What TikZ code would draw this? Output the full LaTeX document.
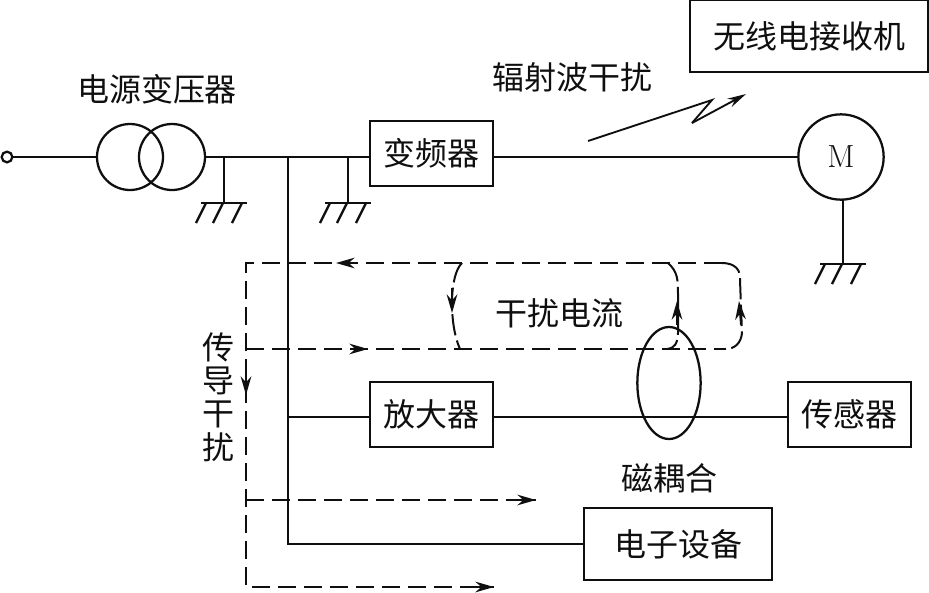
\documentclass[tikz,border=0pt]{standalone}
\usepackage{fontspec}
\usepackage{xcolor}
\usetikzlibrary{arrows.meta,positioning,shapes.geometric}
\newfontfamily\cjk{Noto Sans CJK SC}
\definecolor{diagink}{RGB}{15,15,15}
\tikzset{
  wire/.style={line width=1.7pt,diagink},
  noise/.style={line width=1.7pt,diagink,dash pattern=on 13.5pt off 6pt},
  noisecurve/.style={line width=1.5pt,diagink,dash pattern=on 16pt off 4pt},
  tip/.style={line width=1.4pt,diagink,-{Stealth[length=14pt,width=8pt]}},
  boxlabel/.style={draw=diagink,line width=1.7pt,inner sep=0pt,font=\cjk\fontsize{24pt}{24pt}\selectfont,text=diagink},
  caption/.style={inner sep=0pt,font=\cjk\fontsize{24pt}{25pt}\selectfont,text=diagink},
  round/.style={draw=diagink,line width=1.7pt,circle,inner sep=0pt}
}
\begin{document}
\begin{tikzpicture}[x=0.75pt,y=-0.75pt]
\useasboundingbox (0,0) rectangle (929,593);

\node[round,minimum size=8pt] (src) at (7,157) {};
\node[round,minimum size=49.5pt] (coilA) at (130,157) {};
\node[round,minimum size=49.5pt] (coilB) at (172,157) {};
\node[boxlabel,minimum width=92pt,minimum height=49pt] (vfd) at (431.5,153.5) {变频器};
\node[boxlabel,minimum width=179pt,minimum height=54pt] (radio) at (809,36) {无线电接收机};
\node[boxlabel,minimum width=92pt,minimum height=49pt] (amp) at (431.5,414.5) {放大器};
\node[boxlabel,minimum width=92pt,minimum height=49pt] (sensor) at (849.5,414.5) {传感器};
\node[boxlabel,minimum width=141pt,minimum height=54pt] (equip) at (678,544) {电子设备};
\node[round,minimum size=64pt,font=\fontsize{24pt}{24pt}\selectfont,text=diagink] (motor) at (841,157) {M};

\coordinate (busT) at (288,157);
\coordinate (busA) at (288,417);
\coordinate (busE) at (288,544);

\draw[wire] (src) -- (coilA);
\draw[wire] (coilB) -- (vfd.west |- coilB);
\draw[wire] (vfd.east |- motor) -- (motor);
\draw[wire] (busT) -- (busE) -- (equip.west |- busE);
\draw[wire] (busA) -- (amp.west |- busA);
\draw[wire] (amp.east |- busA) -- (sensor.west |- busA);

\foreach \x/\yA/\yB in {224/157/203, 348/157/203, 843/199/264} {
  \draw[wire] (\x,\yA) -- (\x,\yB);
  \draw[wire,line width=2.2pt] (\x-23,\yB) -- (\x+23,\yB);
  \foreach \d in {-18,-1,18}
    \draw[wire] (\x+\d,\yB) -- (\x+\d-10,\yB+20);
}

\node[draw=diagink,line width=1.7pt,ellipse,minimum width=47.5pt,minimum height=84pt,inner sep=0pt] (loop) at (669,383) {};

\node[caption] (srcname) at (157,89) {电源变压器};
\node[caption] (radname) at (572,77) {辐射波干扰};
\node[caption] (curname) at (559,313) {干扰电流};
\node[caption] (magname) at (669,478) {磁耦合};
\node[caption,align=center] (condname) at (218,397) {传\\导\\干\\扰};

\coordinate (zzA) at (588,141);
\coordinate (zzB) at (712,100);
\coordinate (zzC) at (692,123);
\coordinate (zzD) at (746,94);
\draw[wire,line width=1.4pt] (zzA) -- (zzB) -- (zzC);
\draw[wire,line width=1.4pt,-{Stealth[length=14pt,width=7pt]}] (zzC) -- (zzD);

\draw[noise] (722,263) -- (246,263) -- (246,587) -- (494,587);
\draw[noise] (246,349) -- (725,349);
\draw[noise] (246,500) -- (536,500);

\draw[noisecurve] (462,263) .. controls (449,275) and (449,325) .. (460,349);
\draw[noisecurve] (668,263) .. controls (678,272) and (678,280) .. (678,295) -- (678,333) .. controls (678,343) and (674,349) .. (667,349);
\draw[noisecurve] (722,263) .. controls (735,263) and (741,270) .. (740,280) -- (742,333) .. controls (741,343) and (735,349) .. (725,349);

\draw[tip] (352,263) -- (336,263);
\draw[tip] (350,349) -- (368,349);
\draw[tip] (246,375) -- (246,395);
\draw[tip] (452,288) -- (452,313);
\draw[tip] (677,325) -- (677,301);
\draw[tip] (741,325) -- (739,301);
\draw[tip] (510,500) -- (536,500);
\draw[tip] (470,587) -- (494,587);
\end{tikzpicture}
\end{document}
